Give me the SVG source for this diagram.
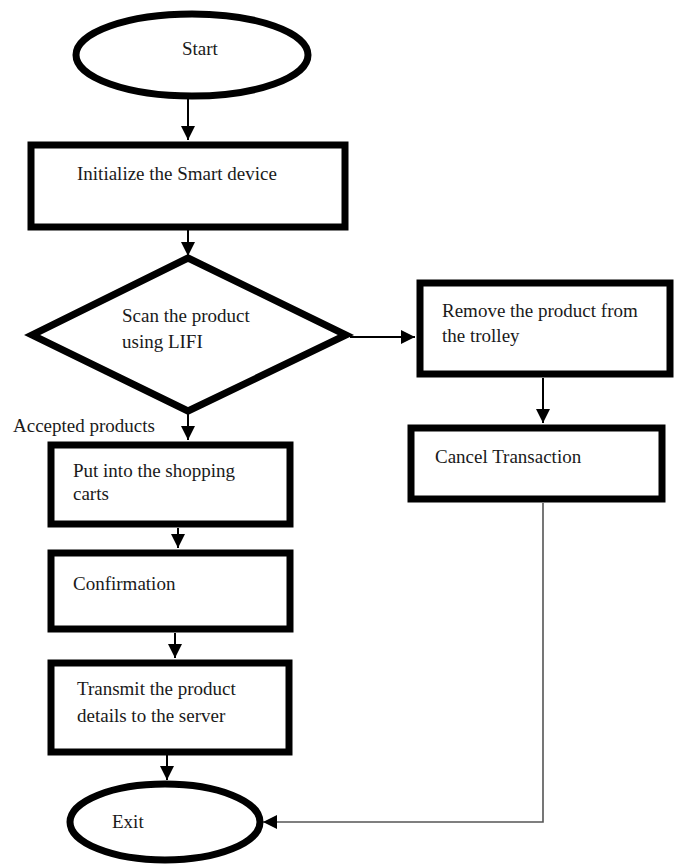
<svg xmlns="http://www.w3.org/2000/svg" width="675" height="865" viewBox="0 0 675 865">
<style>
.n{fill:#fff;stroke:#000;stroke-width:7}
.t{font-family:"Liberation Serif","Times New Roman",serif;font-size:19px;fill:#1a1a1a}
.c{fill:none;stroke:#000;stroke-width:2}
.c2{fill:none;stroke:#555;stroke-width:1.6}
</style>
<defs>
<marker id="ah" markerUnits="userSpaceOnUse" markerWidth="16" markerHeight="16" viewBox="0 0 16 16" refX="15" refY="8" orient="auto">
<path d="M1,1 L15,8 L1,15 Z" fill="#000"/>
</marker>
</defs>
<rect width="675" height="865" fill="#fff"/>
<g id="connectors">
<line class="c" x1="188" y1="98" x2="188" y2="140" marker-end="url(#ah)"/>
<line class="c" x1="188" y1="230" x2="188" y2="256" marker-end="url(#ah)"/>
<line class="c" x1="350" y1="337" x2="415" y2="337" marker-end="url(#ah)"/>
<line class="c" x1="543" y1="378" x2="543" y2="423" marker-end="url(#ah)"/>
<line class="c" x1="188" y1="414" x2="188" y2="440" marker-end="url(#ah)"/>
<line class="c" x1="178" y1="528" x2="178" y2="548" marker-end="url(#ah)"/>
<line class="c" x1="175" y1="633" x2="175" y2="658" marker-end="url(#ah)"/>
<line class="c" x1="167" y1="746" x2="167" y2="780" marker-end="url(#ah)"/>
<path class="c2" d="M543,503 L543,822 L263,822" marker-end="url(#ah)"/>
</g>
<g id="start">
<ellipse class="n" cx="192" cy="55" rx="116" ry="41"/>
<text class="t" x="182" y="55">Start</text>
</g>
<g id="init">
<rect class="n" x="31" y="145" width="314" height="82"/>
<text class="t" x="77" y="180">Initialize the Smart device</text>
</g>
<g id="scan">
<polygon class="n" points="188,258 346,335 188,411 32,335"/>
<text class="t" x="122" y="322">Scan the product</text>
<text class="t" x="122" y="348">using LIFI</text>
</g>
<g id="accepted-label">
<text class="t" x="13" y="432">Accepted products</text>
</g>
<g id="remove">
<rect class="n" x="420" y="283" width="250" height="91"/>
<text class="t" x="442" y="317">Remove the product from</text>
<text class="t" x="442" y="342">the trolley</text>
</g>
<g id="cancel">
<rect class="n" x="411" y="428" width="251" height="71"/>
<text class="t" x="435" y="463">Cancel Transaction</text>
</g>
<g id="put">
<rect class="n" x="51" y="445" width="239" height="79"/>
<text class="t" x="73" y="477">Put into the shopping</text>
<text class="t" x="73" y="500">carts</text>
</g>
<g id="confirm">
<rect class="n" x="51" y="553" width="239" height="76"/>
<text class="t" x="73" y="590">Confirmation</text>
</g>
<g id="transmit">
<rect class="n" x="51" y="663" width="238" height="89"/>
<text class="t" x="77" y="695">Transmit the product</text>
<text class="t" x="77" y="722">details to the server</text>
</g>
<g id="exit">
<ellipse class="n" cx="165" cy="822" rx="95" ry="38"/>
<text class="t" x="112" y="828">Exit</text>
</g>
</svg>
